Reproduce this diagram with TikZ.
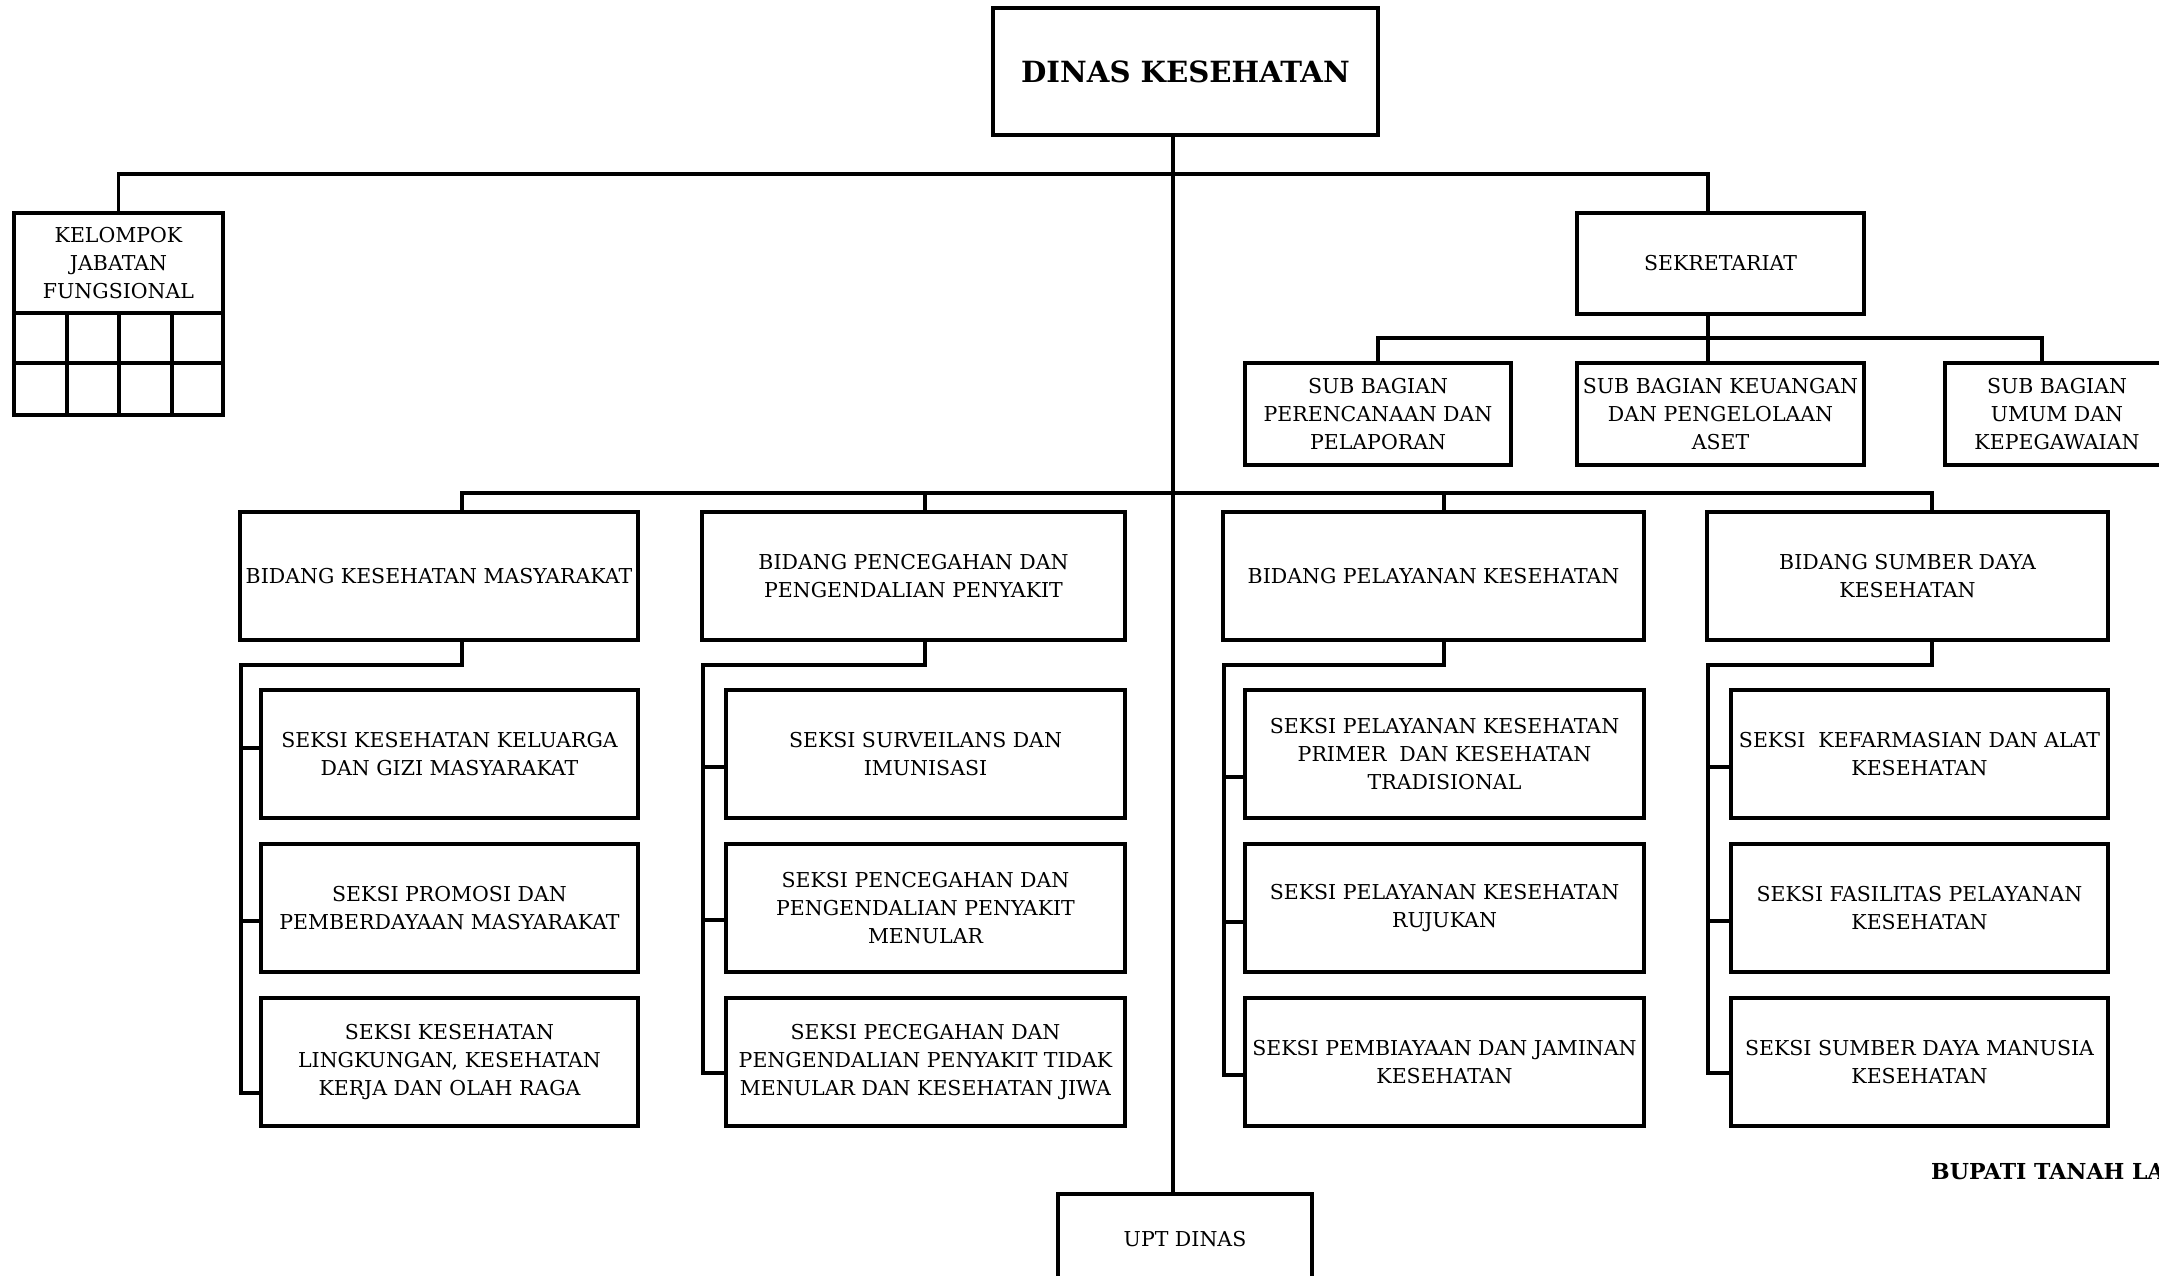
\documentclass[tikz,border=0pt]{standalone}
\usepackage{fontspec}
\setmainfont{DejaVu Serif}
\newcommand\fsz{\fontsize{20.5}{28}\selectfont}
\newcommand\ttlfont{\fontsize{29.2}{34}\selectfont\bfseries}
\newcommand\bupfont{\fontsize{22}{26}\selectfont\bfseries}
\tikzset{
  box/.style={draw, line width=3.6pt, align=center, inner sep=0pt, font=\fsz, fill=white},
  conn/.style={line width=3.2pt, line cap=rect}
}
\begin{document}
\begin{tikzpicture}[x=1pt,y=-1pt]
\fill[white] (0,0) rectangle (2159,1275);
\clip (0,0) rectangle (2159,1275);
% top
\node[box, minimum width=385pt, minimum height=127pt, font=\ttlfont] (title) at (1185.5,71.5) {DINAS KESEHATAN};
\node[box, minimum width=209pt, minimum height=100pt] (kjf) at (118.5,263) {KELOMPOK\\JABATAN\\FUNGSIONAL};
\draw[line width=3.6pt] (14,313) rectangle (223,415);
\draw[line width=3.6pt] (14,363) -- (223,363) (67,313) -- (67,415) (119,313) -- (119,415) (172,313) -- (172,415);
\node[box, minimum width=287pt, minimum height=101pt] (sek) at (1720.5,263.5) {SEKRETARIAT};
\node[box, minimum width=266pt, minimum height=102pt] (sub1) at (1378,414) {SUB BAGIAN\\PERENCANAAN DAN\\PELAPORAN};
\node[box, minimum width=287pt, minimum height=102pt] (sub2) at (1720.5,414) {SUB BAGIAN KEUANGAN\\DAN PENGELOLAAN\\ASET};
\node[box, minimum width=224pt, minimum height=102pt] (sub3) at (2057,414) {SUB BAGIAN\\UMUM DAN\\KEPEGAWAIAN};
% bidang
\node[box, minimum width=398pt, minimum height=128pt] (b1) at (439,576) {BIDANG KESEHATAN MASYARAKAT};
\node[box, minimum width=423pt, minimum height=128pt] (b2) at (913.5,576) {BIDANG PENCEGAHAN DAN\\PENGENDALIAN PENYAKIT};
\node[box, minimum width=421pt, minimum height=128pt] (b3) at (1433.5,576) {BIDANG PELAYANAN KESEHATAN};
\node[box, minimum width=401pt, minimum height=128pt] (b4) at (1907.5,576) {BIDANG SUMBER DAYA\\KESEHATAN};
% seksi
\tikzset{sk1/.style={box, minimum width=377pt, minimum height=128pt},
         sk2/.style={box, minimum width=399pt, minimum height=128pt}}
\node[sk1] (s11) at (449.5,754) {SEKSI KESEHATAN KELUARGA\\DAN GIZI MASYARAKAT};
\node[sk1] (s12) at (449.5,908) {SEKSI PROMOSI DAN\\PEMBERDAYAAN MASYARAKAT};
\node[sk1] (s13) at (449.5,1062) {SEKSI KESEHATAN\\LINGKUNGAN, KESEHATAN\\KERJA DAN OLAH RAGA};
\node[sk2] (s21) at (925.5,754) {SEKSI SURVEILANS DAN\\IMUNISASI};
\node[sk2] (s22) at (925.5,908) {SEKSI PENCEGAHAN DAN\\PENGENDALIAN PENYAKIT\\MENULAR};
\node[sk2] (s23) at (925.5,1062) {SEKSI PECEGAHAN DAN\\PENGENDALIAN PENYAKIT TIDAK\\MENULAR DAN KESEHATAN JIWA};
\node[sk2] (s31) at (1444.5,754) {SEKSI PELAYANAN KESEHATAN\\PRIMER~ DAN KESEHATAN\\TRADISIONAL};
\node[sk2] (s32) at (1444.5,908) {SEKSI PELAYANAN KESEHATAN\\RUJUKAN};
\node[sk2] (s33) at (1444.5,1062) {SEKSI PEMBIAYAAN DAN JAMINAN\\KESEHATAN};
\node[sk1] (s41) at (1919.5,754) {SEKSI~ KEFARMASIAN DAN ALAT\\KESEHATAN};
\node[sk1] (s42) at (1919.5,908) {SEKSI FASILITAS PELAYANAN\\KESEHATAN};
\node[sk1] (s43) at (1919.5,1062) {SEKSI SUMBER DAYA MANUSIA\\KESEHATAN};
% bottom
\node[box, minimum width=254pt, minimum height=91pt] (upt) at (1185,1239.5) {UPT DINAS};
\node[anchor=west, inner sep=0pt, font=\bupfont] (bup) at (1931,1172) {BUPATI TANAH LA};
% coordinates
\coordinate (sp) at (1173,0);
\coordinate (h1) at (0,174);
\coordinate (skx) at (1708,0);
\coordinate (s3x) at (2042,338);
\coordinate (bh) at (0,493);
\coordinate (yh) at (0,665);
\coordinate (k1) at (462,0);
\coordinate (k2) at (925,0);
\coordinate (k3) at (1444,0);
\coordinate (k4) at (1932,0);
\coordinate (v1) at (241,665);
\coordinate (v2) at (703,665);
\coordinate (v3) at (1224,665);
\coordinate (v4) at (1708,665);
\coordinate (t11) at (241,748);
\coordinate (t12) at (241,921);
\coordinate (t13) at (241,1093);
\coordinate (t21) at (703,767);
\coordinate (t22) at (703,920);
\coordinate (t23) at (703,1073);
\coordinate (t31) at (1224,777);
\coordinate (t32) at (1224,922);
\coordinate (t33) at (1224,1075);
\coordinate (t41) at (1708,767);
\coordinate (t42) at (1708,921);
\coordinate (t43) at (1708,1073);
% connectors
\begin{scope}[conn]
\draw (title.south -| sp) -- (upt.north -| sp);
\draw (kjf.north) |- (skx |- h1) -- (skx |- sek.north);
\draw (skx |- sek.south) -- (skx |- sub2.north);
\draw (sub1.north) |- (s3x) -- (s3x |- sub3.north);
\draw (k1 |- b1.north) -- (k1 |- bh) -- (k4 |- bh) -- (k4 |- b4.north);
\draw (k2 |- bh) -- (k2 |- b2.north);
\draw (k3 |- bh) -- (k3 |- b3.north);
\draw (k1 |- b1.south) |- (v1) -- (t13);
\draw (k2 |- b2.south) |- (v2) -- (t23);
\draw (k3 |- b3.south) |- (v3) -- (t33);
\draw (k4 |- b4.south) |- (v4) -- (t43);
\draw (t11) -- (t11 -| s11.west);
\draw (t12) -- (t12 -| s12.west);
\draw (t13) -- (t13 -| s13.west);
\draw (t21) -- (t21 -| s21.west);
\draw (t22) -- (t22 -| s22.west);
\draw (t23) -- (t23 -| s23.west);
\draw (t31) -- (t31 -| s31.west);
\draw (t32) -- (t32 -| s32.west);
\draw (t33) -- (t33 -| s33.west);
\draw (t41) -- (t41 -| s41.west);
\draw (t42) -- (t42 -| s42.west);
\draw (t43) -- (t43 -| s43.west);
\end{scope}
\end{tikzpicture}
\end{document}
